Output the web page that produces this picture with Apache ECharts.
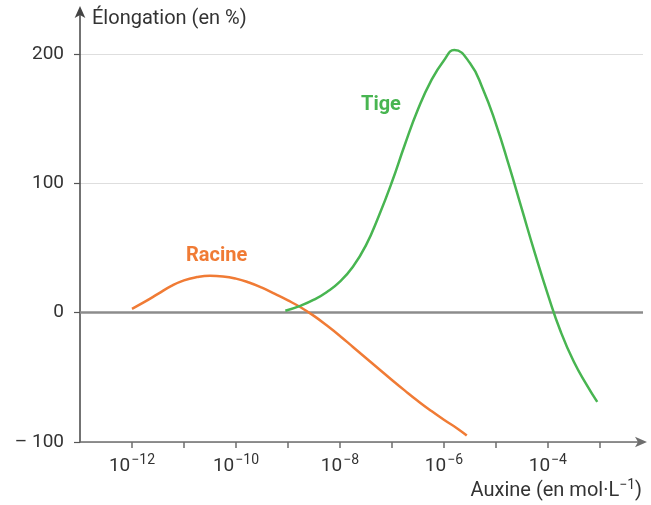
<!DOCTYPE html>
<html>
<head>
<meta charset="utf-8">
<script src="https://cdn.jsdelivr.net/npm/echarts@6/dist/echarts.min.js"></script>
<style>html,body{margin:0;padding:0;background:#fff;}#c{width:651px;height:505px;}</style>
</head>
<body>
<div id="c"></div>
<script>
// x values are log10 of auxin concentration (mol/L)
const racineX = [-12, -11.75, -11.5, -11.25, -11, -10.75, -10.5, -10.25, -10, -9.75, -9.5, -9.25, -9, -8.75, -8.5, -8.25, -8, -7.75, -7.5, -7.25, -7, -6.75, -6.5, -6.25, -6, -5.75, -5.56];
const racineY = [3, 8.5, 14.5, 20.5, 25, 27.5, 28.5, 28, 26.3, 23.3, 19.3, 14.5, 9.5, 4, -2.5, -10, -18, -26.5, -35, -43.5, -52, -60.3, -68.3, -75.8, -82.8, -89.3, -95];
const tigeX = [-9.05, -8.75, -8.5, -8.25, -8, -7.75, -7.5, -7.25, -7, -6.75, -6.5, -6.25, -6, -5.8, -5.5, -5.25, -5, -4.75, -4.5, -4.25, -4, -3.75, -3.5, -3.25, -3.05];
const tigeY = [1.5, 5.5, 10, 16, 24, 35.5, 52, 75, 101, 130, 157, 179, 195, 203, 193, 173, 146, 114, 80, 46, 14, -15, -38, -56, -69];
const xTickExps = [-12, -11, -10, -9, -8, -7, -6, -5, -4, -3];
const xLabelExps = [-12, -10, -8, -6, -4];
const yTicks = [-100, 0, 100, 200];

const FONT = 'Roboto';
const zip = (a, b) => a.map((v, i) => [v, b[i]]);
const chart = echarts.init(document.getElementById('c'), null, {renderer: 'canvas'});
chart.setOption({
  animation: false,
  grid: {left: 80, right: 8, top: 10, bottom: 63, containLabel: false},
  xAxis: {
    type: 'value', min: -13, max: -2.17,
    axisLine: {show: true, onZero: false, symbol: ['none', 'arrow'], symbolSize: [8, 12], symbolOffset: [0, 4],
      lineStyle: {color: '#6e6e6e', width: 1.5}},
    axisTick: {show: true, customValues: xTickExps, length: 6, lineStyle: {color: '#6e6e6e', width: 1.5}},
    splitLine: {show: false},
    axisLabel: {
      customValues: xLabelExps, margin: 10,
      formatter: v => '{b|10}{s|\u2212' + (-v) + '}',
      rich: {
        b: {fontFamily: FONT, fontSize: 19, color: '#333', verticalAlign: 'bottom', lineHeight: 24},
        s: {fontFamily: FONT, fontSize: 14, color: '#333', verticalAlign: 'bottom', lineHeight: 24, padding: [0, 0, 9, 1]}
      }
    }
  },
  yAxis: {
    type: 'value', min: -100, max: 234, interval: 100,
    axisLine: {show: true, onZero: false, symbol: ['none', 'arrow'], symbolSize: [8, 12], symbolOffset: [0, 4],
      lineStyle: {color: '#444', width: 1.5}},
    axisTick: {show: true, customValues: yTicks, length: 6, lineStyle: {color: '#555', width: 1.2}},
    splitLine: {show: true, lineStyle: {color: '#dedede', width: 1.2}},
    axisLabel: {
      customValues: yTicks, margin: 16,
      fontFamily: FONT, fontSize: 19, color: '#333',
      formatter: v => v < 0 ? '\u2013 ' + Math.abs(v) : String(v)
    }
  },
  graphic: [
    {type: 'text', left: 92, top: 9, style: {text: 'Élongation (en %)', fontFamily: FONT, fontSize: 20, fill: '#333'}},
    {type: 'text', right: 9, top: 478, style: {
      text: '{a|Auxine (en mol·L}{s|\u22121}{a|)}',
      rich: {
        a: {fontFamily: FONT, fontSize: 20, fill: '#333', verticalAlign: 'bottom', lineHeight: 24},
        s: {fontFamily: FONT, fontSize: 14, fill: '#333', verticalAlign: 'bottom', lineHeight: 24, padding: [0, 0, 9, 0]}
      }}},
    {type: 'text', left: 186, top: 246, style: {text: 'Racine', fontFamily: FONT, fontWeight: 'bold', fontSize: 20, fill: '#f07b35'}},
    {type: 'text', left: 361, top: 95, style: {text: 'Tige', fontFamily: FONT, fontWeight: 'bold', fontSize: 20, fill: '#48b551'}}
  ],
  series: [
    {
      name: 'Racine', type: 'line', data: zip(racineX, racineY), smooth: 0.5, showSymbol: false, z: 3,
      lineStyle: {color: '#f07b35', width: 2.5},
      markLine: {silent: true, symbol: 'none', label: {show: false}, animation: false,
        lineStyle: {color: '#8c8c8c', width: 2.5, type: 'solid'}, data: [{yAxis: 0}], z: 1}
    },
    {
      name: 'Tige', type: 'line', data: zip(tigeX, tigeY), smooth: 0.5, showSymbol: false, z: 3,
      lineStyle: {color: '#48b551', width: 2.5}
    }
  ]
});
</script>
</body>
</html>
